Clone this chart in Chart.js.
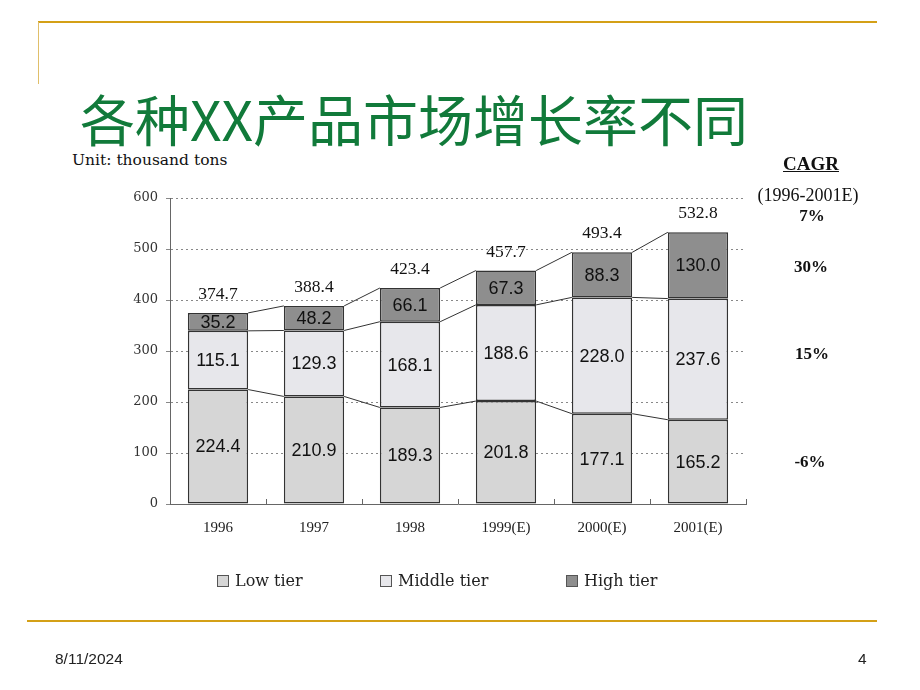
<!DOCTYPE html>
<html>
<head>
<meta charset="utf-8">
<script src="https://cdn.jsdelivr.net/npm/chart.js@4/dist/chart.umd.min.js"></script>
<style>
  html, body { margin:0; padding:0; background:#fff; }
  body { width:920px; height:690px; position:relative; overflow:hidden; }
  #c { position:absolute; left:0; top:0; }
  .abs { position:absolute; white-space:nowrap; }
  .gold { position:absolute; background:#d4a017; }
  .pal { font-family:"DejaVu Serif",serif; }
  .cagr { font-family:"Liberation Serif",serif; font-weight:bold; font-size:17px; color:#111; transform:translate(-50%,-50%); }
  .lg { position:absolute; top:571px; display:flex; align-items:center; font-family:"DejaVu Serif",serif; font-size:16px; color:#222; }
  .lg span.box { display:inline-block; width:10px; height:10px; border:1px solid #555; margin-right:6px; }
</style>
</head>
<body>
<div class="gold" style="left:38px; top:21px; width:839px; height:2px;"></div>
<div class="gold" style="left:38px; top:22px; width:1px; height:62px; background:#e0bf6a;"></div>
<div class="gold" style="left:27px; top:620px; width:850px; height:2px;"></div>

<div class="abs" id="title" style="left:80px; top:82px; font-family:'Noto Sans CJK SC',sans-serif; font-size:55px; color:#117a3a; line-height:70px;">各种XX产品市场增长率不同</div>
<div class="abs pal" id="unit" style="left:72px; top:151px; font-size:15.5px; color:#111;">Unit: thousand tons</div>

<canvas id="c" width="920" height="690"></canvas>

<div id="cagrPanel"></div>
<div id="legend"></div>

<div class="abs" style="left:55px; top:650px; font-family:'Liberation Sans Narrow','Liberation Sans',sans-serif; font-size:15.5px; color:#222;">8/11/2024</div>
<div class="abs" style="left:858px; top:650px; font-family:'Liberation Sans Narrow','Liberation Sans',sans-serif; font-size:15.5px; color:#222;">4</div>

<script>
// ---- data ----
const categories = ['1996', '1997', '1998', '1999(E)', '2000(E)', '2001(E)'];
const seriesNames = ['Low tier', 'Middle tier', 'High tier'];
const lowTier = [224.4, 210.9, 189.3, 201.8, 177.1, 165.2];
const middleTier = [115.1, 129.3, 168.1, 188.6, 228.0, 237.6];
const highTier = [35.2, 48.2, 66.1, 67.3, 88.3, 130.0];
const totals = [374.7, 388.4, 423.4, 457.7, 493.4, 532.8];
const yTicks = [0, 100, 200, 300, 400, 500, 600];
const cagrTitle = 'CAGR';
const cagrPeriod = '(1996-2001E)';
const cagrValues = ['7%', '30%', '15%', '-6%'];

// ---- styles ----
const fills = ['#d6d6d6', '#e7e7eb', '#8e8e8e'];
const borderCol = '#333333';

(function(){
  const p = document.getElementById('cagrPanel');
  const items = [
    [cagrTitle, 811, 164, 'font-size:19px; text-decoration:underline;'],
    [cagrPeriod, 808, 195, 'font-weight:normal; font-size:18px;'],
    [cagrValues[0], 812, 216, ''],
    [cagrValues[1], 811, 267, ''],
    [cagrValues[2], 812, 354, ''],
    [cagrValues[3], 810, 462, '']
  ];
  items.forEach(([t, x, y, st]) => {
    const d = document.createElement('div');
    d.className = 'abs cagr';
    d.style.cssText += `left:${x}px; top:${y}px; ${st}`;
    d.textContent = t;
    p.appendChild(d);
  });
  const lg = document.getElementById('legend');
  const lx = [217, 380, 566];
  seriesNames.forEach((n, i) => {
    const d = document.createElement('div');
    d.className = 'lg';
    d.style.left = lx[i] + 'px';
    d.innerHTML = `<span class="box" style="background:${fills[i]}"></span>`;
    d.appendChild(document.createTextNode(n));
    lg.appendChild(d);
  });
})();

const labelsPlugin = {
  id: 'barLabels',
  afterDatasetsDraw(chart) {
    const ctx = chart.ctx;
    const metas = [0,1,2].map(i => chart.getDatasetMeta(i));
    ctx.save();
    ctx.strokeStyle = '#333';
    ctx.lineWidth = 1;
    metas.forEach(meta => {
      const els = meta.data;
      for (let i = 0; i < els.length - 1; i++) {
        const a = els[i], b = els[i+1];
        ctx.beginPath();
        ctx.moveTo(a.x + a.width/2, a.y);
        ctx.lineTo(b.x - b.width/2, b.y);
        ctx.stroke();
      }
    });
    ctx.fillStyle = '#111';
    ctx.textAlign = 'center';
    ctx.textBaseline = 'middle';
    ctx.font = '18px "Liberation Sans", Arial, sans-serif';
    metas.forEach((meta, di) => {
      const ds = chart.data.datasets[di];
      meta.data.forEach((el, i) => {
        ctx.fillText(ds.data[i].toFixed(1), el.x, (el.y + el.base) / 2 + 1);
      });
    });
    ctx.font = '17.5px "Liberation Serif", "Times New Roman", serif';
    ctx.textBaseline = 'alphabetic';
    metas[2].data.forEach((el, i) => {
      ctx.fillText(totals[i].toFixed(1), el.x, el.y - 14);
    });
    const xs = chart.scales.x;
    const step = xs.getPixelForValue(1) - xs.getPixelForValue(0);
    ctx.strokeStyle = '#666';
    ctx.beginPath();
    for (let i = 0; i < categories.length; i++) {
      const px = Math.round(xs.getPixelForValue(i) + step / 2) + 0.5;
      ctx.moveTo(px, xs.top);
      ctx.lineTo(px, xs.top - 5);
    }
    ctx.stroke();
    ctx.restore();
  }
};

new Chart(document.getElementById('c'), {
  type: 'bar',
  data: {
    labels: categories,
    datasets: [
      { label: seriesNames[0], data: lowTier, backgroundColor: fills[0] },
      { label: seriesNames[1], data: middleTier, backgroundColor: fills[1] },
      { label: seriesNames[2], data: highTier, backgroundColor: fills[2] }
    ].map(d => Object.assign(d, { borderColor: borderCol, borderWidth: 1.5, borderSkipped: false, barPercentage: 0.628, categoryPercentage: 1 }))
  },
  options: {
    responsive: false,
    animation: false,
    layout: { padding: { left: 130, right: 174, top: 198, bottom: 141 } },
    plugins: { legend: { display: false }, tooltip: { enabled: false } },
    scales: {
      x: {
        stacked: true,
        afterFit: s => { s.height = 45; },
        grid: { display: false },
        border: { display: true, color: '#666', width: 1 },
        ticks: { color: '#222', padding: 7, font: { family: '"Liberation Serif", serif', size: 15 } }
      },
      y: {
        stacked: true,
        min: 0, max: 600,
        afterFit: s => { s.width = 40; },
        afterBuildTicks: s => { s.ticks = yTicks.map(v => ({ value: v })); },
        grid: { color: '#888', lineWidth: 1, tickLength: 4, drawTicks: true },
        border: { display: true, color: '#666', width: 1, dash: [2, 3] },
        ticks: { color: '#333', padding: 8, font: { family: '"DejaVu Serif", serif', size: 13 } }
      }
    }
  },
  plugins: [labelsPlugin]
});
</script>
</body>
</html>
